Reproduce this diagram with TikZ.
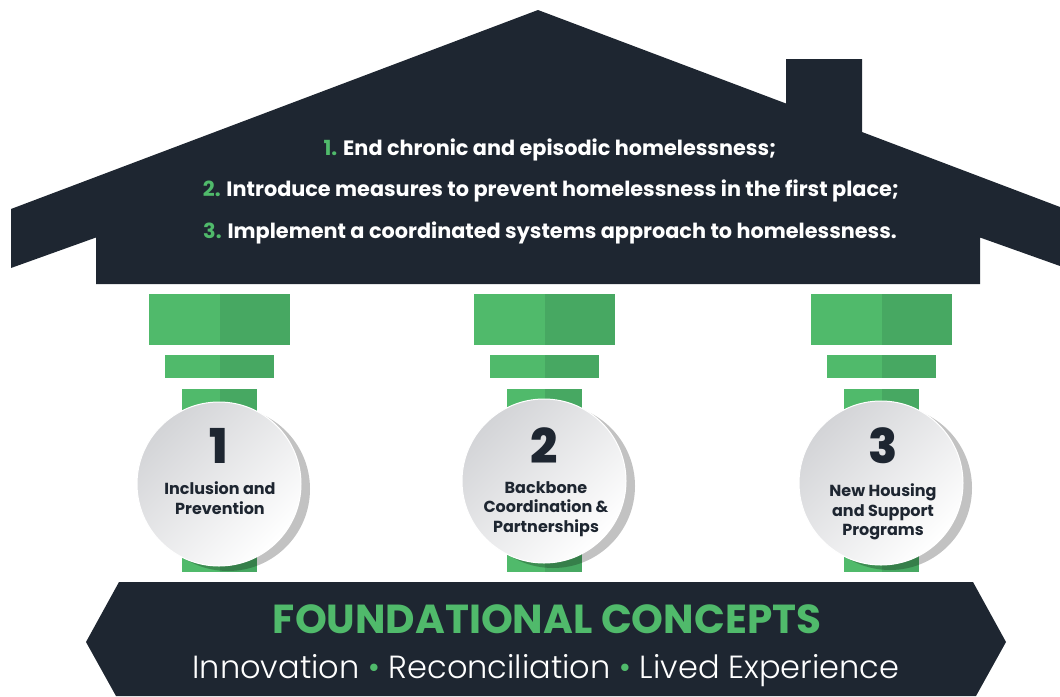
\documentclass[tikz,border=0pt]{standalone}
\usepackage{fontspec}
\setmainfont{Poppins}
\newfontfamily\lightfont{Poppins Light}
\newfontfamily\heavyfont{Poppins ExtraBold}
\usetikzlibrary{shadows}
\definecolor{navy}{HTML}{1E2631}
\definecolor{leafgreen}{HTML}{50BA6B}
\definecolor{deepgreen}{HTML}{47A862}
\definecolor{discgray}{HTML}{D3D4D7}
\tikzset{
every node/.style={inner sep=0pt},
block/.style={ % Two-tone green pillar pieces
fill=deepgreen,
path picture={\fill[leafgreen] (path picture bounding box.south west) rectangle (path picture bounding box.north);}},
capital/.style={block, minimum width=141, minimum height=51},
collar/.style={block, minimum width=109, minimum height=23},
shaft/.style={block, minimum width=75, minimum height=183},
disc/.style={ % Shaded round label on each pillar
circle, minimum size=164, draw=white, line width=1pt,
top color=discgray, bottom color=white, shading angle=45,
drop shadow={shadow xshift=9pt, shadow yshift=-5pt, fill=black, opacity=0.24}},
numeral/.style={font=\heavyfont\fontsize{48}{48}\selectfont, text=navy},
pillartext/.style={font=\bfseries\fontsize{16}{19.5}\selectfont, text=navy, align=center},
goal/.style={font=\bfseries\fontsize{20.8}{22}\selectfont, text=white}}

\begin{document}
\begin{tikzpicture}[x=1pt, y=-1pt]
	\useasboundingbox (0,0) rectangle (1060,696);
	% house
	\fill[navy] (11,209) -- (538,10) -- (786,103.5) -- (786,59) -- (862,59) -- (862,132)
		-- (1060,207) -- (1060,266) -- (980,237.5) -- (980,284) -- (96,284) -- (96,237.5) -- (11,268) -- cycle;
	\node[goal] (g1) at (550,150) {\textcolor{leafgreen}{1.} End chronic and episodic homelessness;};
	\node[goal] (g2) at (551,191) {\textcolor{leafgreen}{2.} Introduce measures to prevent homelessness in the first place;};
	\node[goal] (g3) at (550,233) {\textcolor{leafgreen}{3.} Implement a coordinated systems approach to homelessness.};
	% pillar 1
	\node[capital] (cap1) at (219.5,319.5) {};
	\node[collar] (col1) at (219.5,366.5) {};
	\node[shaft] (sh1) at (219.5,480.5) {};
	\node[disc] (d1) at (219,484) {};
	\node[numeral] (n1) at (219,446) {1};
	\node[pillartext] (t1) at (220,498) {Inclusion and\\Prevention};
	% pillar 2
	\node[capital] (cap2) at (544.5,319.5) {};
	\node[collar] (col2) at (544.5,366.5) {};
	\node[shaft] (sh2) at (544.5,480.5) {};
	\node[disc] (d2) at (544,481) {};
	\node[numeral] (n2) at (544,446) {2};
	\node[pillartext] (t2) at (546,509) {Backbone\\Coordination \&\\Partnerships};
	% pillar 3
	\node[capital] (cap3) at (881.5,319.5) {};
	\node[collar] (col3) at (881.5,366.5) {};
	\node[shaft] (sh3) at (881.5,480.5) {};
	\node[disc] (d3) at (881,483) {};
	\node[numeral] (n3) at (883,446) {3};
	\node[pillartext] (t3) at (883,512) {New Housing\\and Support\\Programs};
	% foundation
	\fill[navy] (119,582) -- (973,582) -- (1006,642) -- (976,696) -- (116,696) -- (86,642) -- cycle;
	\node[font=\bfseries\fontsize{40.5}{40}\selectfont, text=leafgreen] (fc) at (547,619) {FOUNDATIONAL CONCEPTS};
	\node[font=\lightfont\fontsize{32}{32}\selectfont, text=white] (vals) at (546,671)
		{Innovation \textcolor{leafgreen}{\textbullet} Reconciliation \textcolor{leafgreen}{\textbullet} Lived Experience};
\end{tikzpicture}
\end{document}
